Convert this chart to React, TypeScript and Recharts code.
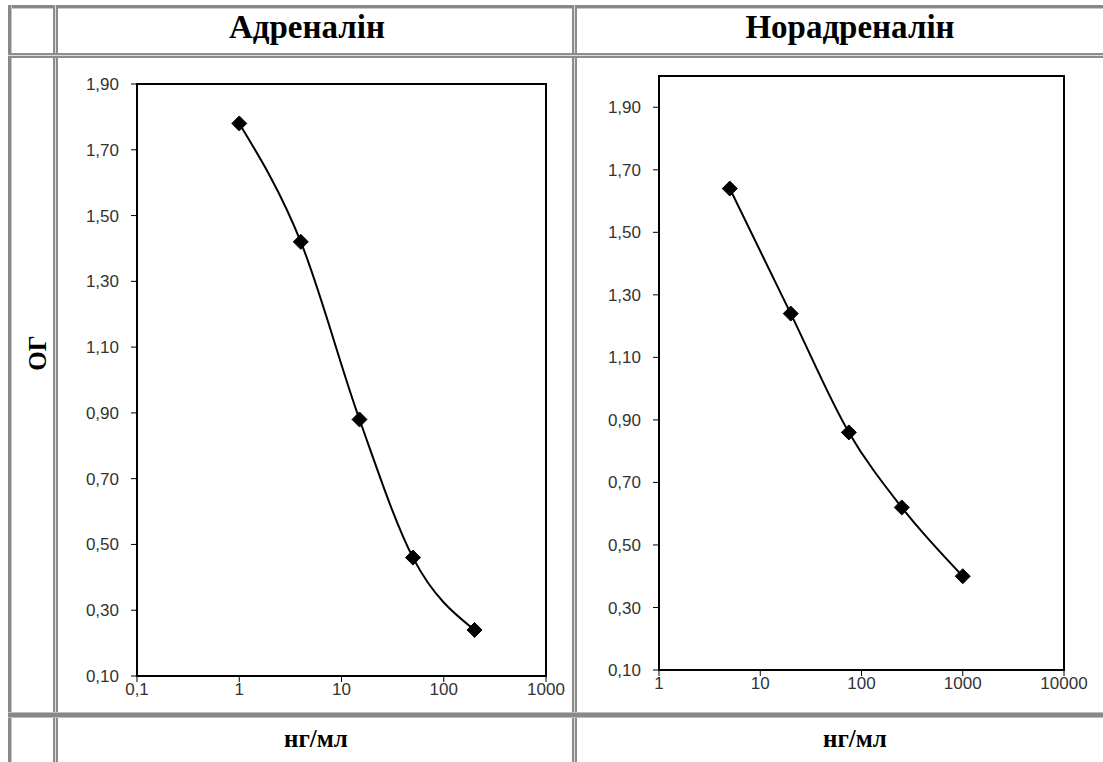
import { LineChart, Line, XAxis, YAxis, ReferenceArea } from "recharts";

// Адреналін
const adrDose = [1, 4, 15, 50, 200];
const adrOD = [1.78, 1.42, 0.88, 0.46, 0.24];
const adrXTicks = [0.1, 1, 10, 100, 1000];

// Норадреналін
const noradDose = [5, 20, 75, 250, 1000];
const noradOD = [1.64, 1.24, 0.86, 0.62, 0.4];
const noradXTicks = [1, 10, 100, 1000, 10000];

const yTicks = [0.1, 0.3, 0.5, 0.7, 0.9, 1.1, 1.3, 1.5, 1.7, 1.9];

const adrData = adrDose.map((d, i) => ({ dose: d, od: adrOD[i] }));
const noradData = noradDose.map((d, i) => ({ dose: d, od: noradOD[i] }));

const fmtY = (v: number) => v.toFixed(2).replace(".", ",");
const fmtX = (v: number) => String(v).replace(".", ",");

const tickStyle = { fontFamily: "'Liberation Sans', Arial, sans-serif", fontSize: 17, fill: "#333" };

const Diamond = (props: any) => {
  const { cx, cy, index } = props;
  if (cx == null || cy == null) return null;
  const r = 7.5;
  return (
    <path
      key={index}
      d={`M${cx},${cy - r}L${cx + r},${cy}L${cx},${cy + r}L${cx - r},${cy}Z`}
      fill="#000"
      stroke="#000"
      strokeWidth={1}
      strokeLinejoin="round"
    />
  );
};

function Curve({ data, xTicks, yMax, width, height, margin, yWidth }: any) {
  const xMin = xTicks[0];
  const xMax = xTicks[xTicks.length - 1];
  return (
    <LineChart width={width} height={height} data={data} margin={margin}>
      <XAxis
        dataKey="dose"
        type="number"
        scale="log"
        domain={[xMin, xMax]}
        ticks={xTicks}
        tickFormatter={fmtX}
        allowDataOverflow
        interval={0}
        height={30}
        tick={tickStyle}
        tickSize={6}
        tickMargin={1}
        tickLine={{ stroke: "#000" }}
        axisLine={{ stroke: "#000", strokeWidth: 2 }}
      />
      <YAxis
        type="number"
        domain={[0.1, yMax]}
        ticks={yTicks}
        tickFormatter={fmtY}
        allowDataOverflow
        interval={0}
        width={yWidth}
        tick={tickStyle}
        tickSize={6}
        tickMargin={12}
        tickLine={{ stroke: "#000" }}
        axisLine={{ stroke: "#000", strokeWidth: 2 }}
      />
      <ReferenceArea
        x1={xMin}
        x2={xMax}
        y1={0.1}
        y2={yMax}
        fill="none"
        stroke="#000"
        strokeWidth={2}
        ifOverflow="visible"
      />
      <Line
        dataKey="od"
        type="monotone"
        stroke="#000"
        strokeWidth={2}
        dot={Diamond}
        activeDot={false}
        isAnimationActive={false}
      />
    </LineChart>
  );
}

const band = (style: any) => <div style={{ position: "absolute", ...style }} />;

function VSep({ x }: { x: number }) {
  return (
    <>
      {band({ left: x, top: 5, width: 2, height: 757, background: "#8c8c8c" })}
      {band({ left: x + 2, top: 5, width: 1, height: 757, background: "#dcdcdc" })}
      {band({ left: x + 3, top: 5, width: 2, height: 757, background: "#8c8c8c" })}
    </>
  );
}

function HSep({ y }: { y: number }) {
  return (
    <>
      {band({ left: 8, top: y, width: 1095, height: 2, background: "#8c8c8c" })}
      {band({ left: 8, top: y + 2, width: 1095, height: 1, background: "#dcdcdc" })}
      {band({ left: 8, top: y + 3, width: 1095, height: 2, background: "#8c8c8c" })}
    </>
  );
}

const serifBold = {
  fontFamily: "'Liberation Serif', 'Times New Roman', serif",
  fontWeight: "bold" as const,
  color: "#000",
  position: "absolute" as const,
  whiteSpace: "nowrap" as const,
};

export default function App() {
  return (
    <div style={{ position: "absolute", left: 0, top: 0, width: 1103, height: 762, background: "#fff", overflow: "hidden" }}>
      {/* table frame */}
      {band({ left: 8, top: 5, width: 1095, height: 3, background: "#888" })}
      {band({ left: 8, top: 8, width: 1095, height: 1, background: "#c8c8c8" })}
      {band({ left: 8, top: 5, width: 3, height: 757, background: "#888" })}
      {band({ left: 11, top: 5, width: 1, height: 757, background: "#c8c8c8" })}
      <VSep x={53} />
      <VSep x={572} />
      <HSep y={53} />
      {band({ left: 8, top: 712, width: 1095, height: 1, background: "#bdbdbd" })}
      {band({ left: 8, top: 713, width: 1095, height: 4, background: "#888" })}
      {band({ left: 8, top: 717, width: 1095, height: 1, background: "#bdbdbd" })}

      {/* headers */}
      <div style={{ ...serifBold, left: 157, width: 300, top: 9, fontSize: 33, textAlign: "center" }}>Адреналін</div>
      <div style={{ ...serifBold, left: 700, width: 300, top: 9, fontSize: 33, textAlign: "center" }}>Норадреналін</div>
      <div style={{ ...serifBold, left: 38, top: 353, fontSize: 25, transform: "translate(-50%, -50%) rotate(-90deg)" }}>ОГ</div>
      <div style={{ ...serifBold, left: 166, width: 300, top: 725, fontSize: 25, textAlign: "center" }}>нг/мл</div>
      <div style={{ ...serifBold, left: 705, width: 300, top: 725, fontSize: 25, textAlign: "center" }}>нг/мл</div>

      {/* charts */}
      <div style={{ position: "absolute", left: 70, top: 70 }}>
        <Curve
          data={adrData}
          xTicks={adrXTicks}
          yMax={1.9}
          width={500}
          height={640}
          yWidth={67}
          margin={{ top: 14, right: 24, bottom: 4, left: 0 }}
        />
      </div>
      <div style={{ position: "absolute", left: 590, top: 60 }}>
        <Curve
          data={noradData}
          xTicks={noradXTicks}
          yMax={2.0}
          width={503}
          height={644}
          yWidth={69}
          margin={{ top: 16, right: 29, bottom: 4, left: 0 }}
        />
      </div>
    </div>
  );
}
